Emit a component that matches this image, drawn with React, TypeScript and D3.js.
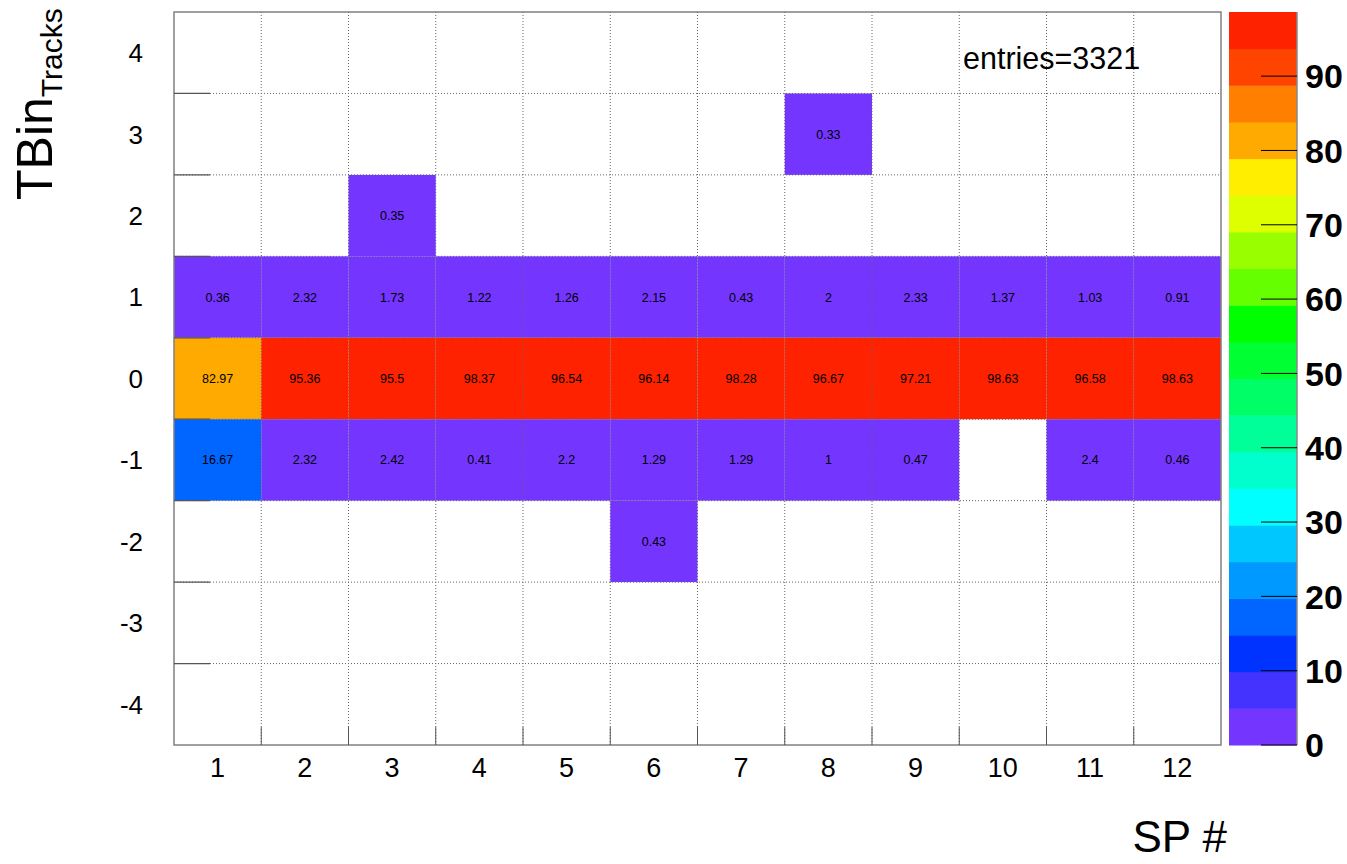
import React from "react";
import * as d3 from "d3";

// ---- data ----
const spBins: number[] = [1, 2, 3, 4, 5, 6, 7, 8, 9, 10, 11, 12];
const tbinBins: number[] = [-4, -3, -2, -1, 0, 1, 2, 3, 4];
type V = number | null;
const rowP3: V[] = [null, null, null, null, null, null, null, 0.33, null, null, null, null];
const rowP2: V[] = [null, null, 0.35, null, null, null, null, null, null, null, null, null];
const rowP1: V[] = [0.36, 2.32, 1.73, 1.22, 1.26, 2.15, 0.43, 2, 2.33, 1.37, 1.03, 0.91];
const row0: V[] = [82.97, 95.36, 95.5, 98.37, 96.54, 96.14, 98.28, 96.67, 97.21, 98.63, 96.58, 98.63];
const rowM1: V[] = [16.67, 2.32, 2.42, 0.41, 2.2, 1.29, 1.29, 1, 0.47, null, 2.4, 0.46];
const rowM2: V[] = [null, null, null, null, null, 0.43, null, null, null, null, null, null];
const rows: { y: number; vals: V[] }[] = [
  { y: 3, vals: rowP3 },
  { y: 2, vals: rowP2 },
  { y: 1, vals: rowP1 },
  { y: 0, vals: row0 },
  { y: -1, vals: rowM1 },
  { y: -2, vals: rowM2 },
];
const zTicks: number[] = [0, 10, 20, 30, 40, 50, 60, 70, 80, 90];
const entriesLabel = "entries=3321";
const zMax = 98.63;

const palette: string[] = [
  "#7436ff", "#4433ff", "#0033ff", "#0066ff", "#0099ff",
  "#00c8ff", "#00ffff", "#00ffcc", "#00ff99", "#00ff66",
  "#00ff33", "#00ff00", "#66ff00", "#99ff00", "#ddff00",
  "#ffee00", "#ffaa00", "#ff8000", "#ff4400", "#ff2200",
];

export default function App() {
  const L = 174, R = 1221, T = 12, B = 745;
  const x = d3.scaleLinear().domain([0.5, 12.5]).range([L, R]);
  const y = d3.scaleLinear().domain([-4.5, 4.5]).range([B, T]);
  const z = d3.scaleLinear().domain([0, zMax]).range([B, T]);
  const nLev = palette.length;
  const colorOf = (v: number) => palette[Math.min(nLev - 1, Math.max(0, Math.floor(v / (zMax / nLev))))];
  const font = "'Liberation Sans', Arial, Helvetica, sans-serif";
  const edgesX = d3.range(1.5, 12.5, 1);
  const edgesY = d3.range(-3.5, 4.5, 1);
  const cbL = 1229, cbR = 1297;
  const levels = d3.range(nLev);

  return (
    <svg width={1347} height={864} style={{ position: "absolute", left: 0, top: 0, background: "#fff" }} fontFamily={font}>
      <rect x={0} y={0} width={1347} height={864} fill="#fff" />
      {/* cells */}
      {rows.map((r) =>
        r.vals.map((v, i) =>
          v === null ? null : (
            <rect key={`c${r.y}-${i}`} x={x(spBins[i] - 0.5)} y={y(r.y + 0.5)}
              width={x(spBins[i] + 0.5) - x(spBins[i] - 0.5)} height={y(r.y - 0.5) - y(r.y + 0.5)}
              fill={colorOf(v)} />
          )
        )
      )}
      {/* grid */}
      {edgesX.map((e) => (
        <line key={`gx${e}`} x1={x(e)} x2={x(e)} y1={T} y2={B} stroke="#666" strokeWidth={1} strokeDasharray="1,2" />
      ))}
      {edgesY.map((e) => (
        <line key={`gy${e}`} x1={L} x2={R} y1={y(e)} y2={y(e)} stroke="#666" strokeWidth={1} strokeDasharray="1,2" />
      ))}
      {/* cell text */}
      {rows.map((r) =>
        r.vals.map((v, i) =>
          v === null ? null : (
            <text key={`t${r.y}-${i}`} x={x(spBins[i])} y={y(r.y)} dy="0.36em" textAnchor="middle" fontSize={12.5} fill="#000">
              {String(v)}
            </text>
          )
        )
      )}
      {/* frame */}
      <rect x={L} y={T} width={R - L} height={B - T} fill="none" stroke="#808080" strokeWidth={1.5} />
      {/* ticks */}
      {edgesX.map((e) => (
        <line key={`tx${e}`} x1={x(e)} x2={x(e)} y1={B} y2={B - 18} stroke="#555" strokeWidth={1} />
      ))}
      {edgesY.map((e) => (
        <line key={`ty${e}`} x1={L} x2={L + 36} y1={y(e)} y2={y(e)} stroke="#555" strokeWidth={1.2} />
      ))}
      {/* axis labels */}
      {spBins.map((b) => (
        <text key={`lx${b}`} x={x(b)} y={777} textAnchor="middle" fontSize={27} fill="#000">{b}</text>
      ))}
      {tbinBins.map((b) => (
        <text key={`ly${b}`} x={143} y={y(b)} dy="0.36em" textAnchor="end" fontSize={26} fill="#000">{b}</text>
      ))}
      {/* titles */}
      <text x={1227} y={852} textAnchor="end" fontSize={44} fill="#000">SP #</text>
      <g transform="translate(52,200) rotate(-90)">
        <text x={0} y={0} fontSize={50} fill="#000">
          TBin
          <tspan dy={10} fontSize={30}>Tracks</tspan>
        </text>
      </g>
      <text x={963} y={69} fontSize={30.5} fill="#000">{entriesLabel}</text>
      {/* color bar */}
      {levels.map((j) => (
        <rect key={`cb${j}`} x={cbL} y={z((j + 1) * zMax / nLev)} width={cbR - cbL}
          height={z(j * zMax / nLev) - z((j + 1) * zMax / nLev) + 0.5} fill={palette[j]} />
      ))}
      <line x1={cbR} x2={cbR} y1={T} y2={B} stroke="#888" strokeWidth={1.5} />
      {zTicks.map((t) => (
        <g key={`zt${t}`}>
          <line x1={cbR - 36} x2={cbR} y1={z(t)} y2={z(t)} stroke="#000" strokeWidth={1} />
          <text x={1305} y={z(t)} dy="0.36em" fontSize={34} fontWeight="bold" fill="#000">{t}</text>
        </g>
      ))}
    </svg>
  );
}
